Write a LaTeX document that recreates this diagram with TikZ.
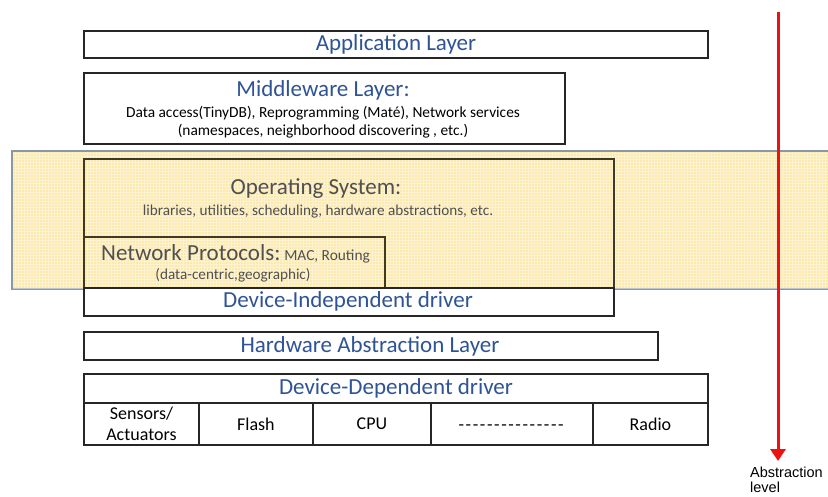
\documentclass[tikz,border=0pt]{standalone}
\usepackage{fontspec}
\setmainfont{Carlito}
\newfontfamily\arialf{Liberation Sans}
\usetikzlibrary{arrows.meta}
\definecolor{titleblue}{HTML}{2F5496}
\definecolor{osgray}{HTML}{505050}
\definecolor{yfill}{HTML}{FCE9AE}
\definecolor{ydark}{HTML}{3F3A22}
\definecolor{bgedge}{HTML}{8C97A6}
\definecolor{arrred}{HTML}{EE1111}
\newcommand{\hyrow}{\vphantom{Flash}\foreach \k in {1,...,15}{-\kern1.6pt}}
\tikzset{
  layer/.style={draw=black!85, line width=1.9pt, fill=white, rectangle, inner sep=0pt, anchor=north west},
  ylayer/.style={draw=ydark, line width=1.9pt, rectangle, inner sep=0pt, anchor=north west},
  ttl/.style={text=titleblue, font=\fontsize{23}{25}\selectfont, inner sep=0pt},
  ostl/.style={text=osgray, font=\fontsize{23}{25}\selectfont, inner sep=0pt},
  sub/.style={text=black, font=\fontsize{15.4}{18}\selectfont, inner sep=0pt},
  ossub/.style={text=osgray, font=\fontsize{15.2}{18}\selectfont, inner sep=0pt},
  cell/.style={draw=black!85, line width=1.9pt, rectangle, inner sep=0pt, anchor=north west, minimum height=42pt, align=center, font=\fontsize{18}{21}\selectfont},
}
\begin{document}
\begin{tikzpicture}[x=1pt,y=-1pt]
\useasboundingbox (0,0) rectangle (828,497);
% application
\node[layer, minimum width=624pt, minimum height=27pt] (app) at (83,30) {};
\node[ttl] (appt) at (396,44) {Application Layer};
% middleware
\node[layer, minimum width=481pt, minimum height=71pt] (mid) at (83,72) {};
\node[ttl] (midt) at (323,90) {Middleware Layer:};
\node[sub] (mid1) at (323,113) {Data access(TinyDB), Reprogramming (Maté), Network services};
\node[sub] (mid2) at (323,131) {(namespaces, neighborhood discovering , etc.)};
% yellow background
\node[draw=bgedge, line width=1.2pt, fill=yfill, rectangle, inner sep=0pt, anchor=north west, minimum width=820pt, minimum height=137pt] (bg) at (12,151) {};
\begin{scope}
\clip (bg.north west) rectangle (bg.south east);
\draw[white, line width=0.5pt, opacity=0.45, step=3pt] (12,151) grid (832,288);
\end{scope}
\draw[bgedge, line width=1.2pt] (bg.north west) rectangle (bg.south east);
% operating system
\node[ylayer, minimum width=530pt, minimum height=129pt] (os) at (83,158) {};
\node[ostl] (ost) at (316,189) {Operating System:};
\node[ossub] (oss) at (318,212) {libraries, utilities, scheduling, hardware abstractions, etc.};
% network protocols
\node[ylayer, minimum width=301pt, minimum height=51pt] (np) at (83,236) {};
\node[ostl, anchor=base west] (npt) at (101,261) {Network Protocols:\,{\fontsize{15.4}{18}\selectfont MAC, Routing}};
\node[ossub] (nps) at (233,275) {(data-centric,geographic)};
% device independent
\node[layer, minimum width=530pt, minimum height=28pt] (di) at (83,287) {};
\node[ttl] (dit) at (348,301) {Device-Independent driver};
% HAL
\node[layer, minimum width=574pt, minimum height=28pt] (hal) at (83,331) {};
\node[ttl] (halt) at (370,346) {Hardware Abstraction Layer};
% device dependent
\node[layer, minimum width=624pt, minimum height=29pt] (dd) at (83,373) {};
\node[ttl] (ddt) at (396,388) {Device-Dependent driver};
\node[cell, minimum width=115pt] (c1) at (83,402) {Sensors/\\Actuators};
\node[cell, minimum width=114pt] (c2) at (198,402) {Flash};
\node[cell, minimum width=118pt] (c3) at (312,402) {CPU};
\node[cell, minimum width=162pt] (c4) at (430,402) {\hyrow};
\node[cell, minimum width=115pt] (c5) at (592,402) {Radio};
% abstraction arrow
\coordinate (atop) at (778,12);
\coordinate (abot) at (778,461);
\draw[arrred, line width=3pt, -{Triangle[length=12pt,width=15pt]}] (atop) -- (abot);
\node[anchor=north west, align=left, inner sep=0pt, font=\arialf\fontsize{14.5}{15}\selectfont] (al) at (750,467) {Abstraction\\level};
\end{tikzpicture}
\end{document}
